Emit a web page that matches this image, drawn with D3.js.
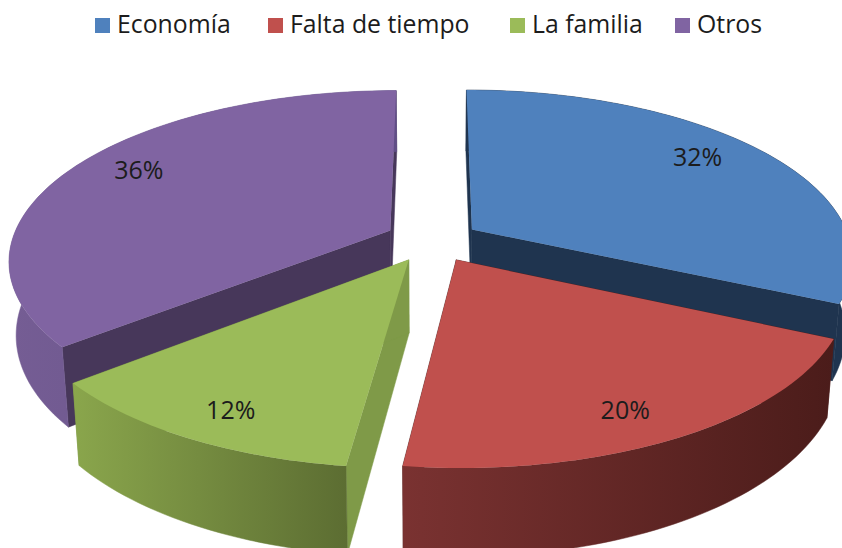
<!DOCTYPE html>
<html><head><meta charset="utf-8">
<script src="https://cdn.jsdelivr.net/npm/d3@7/dist/d3.min.js"></script>
<style>html,body{margin:0;padding:0;background:#fff;overflow:hidden}svg{display:block}
text{font-family:"Open Sans",sans-serif;fill:#1c1c1c}</style></head><body>
<svg id="c" width="842" height="548"></svg>
<script>
const categories = ["Economía","Falta de tiempo","La familia","Otros"];
const shares = [32,20,12,36];
const topColors = ["#4f81bd","#c0504d","#9bbb59","#8064a2"];
const sideColors = ["#1f344f","#4d1e1c","#7f9a48","#47375a"];
const outerStops = [["#1f344f","#1f344f"],["#7a3231","#4b1c1a"],["#8aa64c","#5c6d32"],["#755d94","#604e86"]];
const labelNudge = [[-18,-6],[-12,3],[6,3],[18,-8]];
const sliceShift = [[3,-2],[3,0],[0,0],[0,-3]];
const legendX = [95,268,510,675];
const paintOrder = [0,3,1,2];

const W=842,H=548,cx=431,cy=242,radiusX=378,radiusY=166.3,perspective=5.92,explode=0.12,depth=72,converge=0.983,labelR=0.85;
const svg=d3.select("#c");
const defs=svg.append("defs");
const xs=d3.scaleLinear().domain([-1,1]).range([cx-radiusX,cx+radiusX]);
const ys=d3.scaleLinear().domain([-1,1]).range([cy-radiusY,cy+radiusY]);
const arcs=d3.pie().sort(null)(shares);
const line=d3.line();
const midOf=a=>(a.startAngle+a.endAngle)/2;
function ground(a,r,ang){
  const m=midOf(a);
  return [explode*Math.sin(m)+r*Math.sin(ang), -explode*Math.cos(m)-r*Math.cos(ang)];
}
function project([X,Z],low){
  const s=1/(1-Z/perspective);
  let x=xs(X*s), y=ys(Z*s);
  if(low){ x=cx+(x-cx)*converge; y+=depth*s; }
  return [x,y];
}
function rim(a,low){
  const n=Math.max(8,Math.round((a.endAngle-a.startAngle)*40));
  return d3.range(n+1).map(i=>project(ground(a,1,a.startAngle+(a.endAngle-a.startAngle)*i/n),low));
}
arcs.forEach((a,i)=>{
  const g=defs.append("linearGradient").attr("id","w"+i);
  g.append("stop").attr("offset",0).attr("stop-color",outerStops[i][0]);
  g.append("stop").attr("offset",1).attr("stop-color",outerStops[i][1]);
});
paintOrder.forEach(i=>{
  const a=arcs[i];
  const top=rim(a,false), low=rim(a,true);
  const apex=project(ground(a,0,0),false), apexLow=project(ground(a,0,0),true);
  const g=svg.append("g").attr("transform",`translate(${sliceShift[i][0]},${sliceShift[i][1]})`);
  const wall=(pts,fill)=>g.append("path").attr("d",line(pts)+"Z").attr("fill",fill).attr("stroke",fill).attr("stroke-width",0.5);
  wall([apex,top[0],low[0],apexLow],sideColors[i]);
  wall([apex,top[top.length-1],low[low.length-1],apexLow],sideColors[i]);
  wall(top.concat(low.slice().reverse()),`url(#w${i})`);
  g.append("path").attr("d",line([apex,...top])+"Z").attr("fill",topColors[i]);
});
arcs.forEach((a,i)=>{
  const p=project(ground(a,labelR,midOf(a)),false);
  svg.append("text").attr("x",p[0]+labelNudge[i][0]).attr("y",p[1]+labelNudge[i][1]+9)
    .attr("text-anchor","middle").attr("font-size",25).text(shares[i]+"%");
});
const legend=svg.append("g");
categories.forEach((c,i)=>{
  legend.append("rect").attr("x",legendX[i]).attr("y",18).attr("width",15).attr("height",15).attr("fill",topColors[i]);
  legend.append("text").attr("x",legendX[i]+22).attr("y",33).attr("font-size",24.8).text(c);
});
</script></body></html>
